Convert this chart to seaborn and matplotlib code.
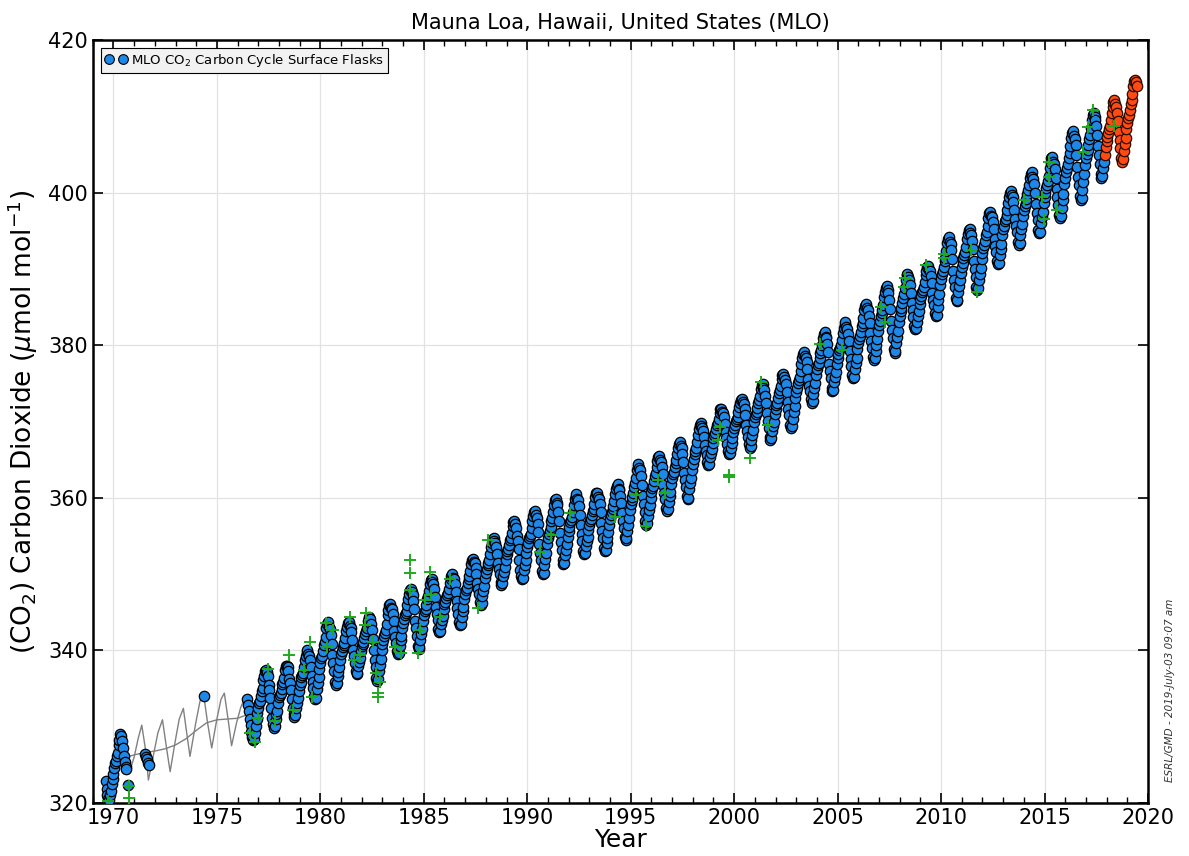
import pandas as pd
import seaborn as sns
import matplotlib.pyplot as plt
from matplotlib.lines import Line2D
from matplotlib.ticker import MultipleLocator

sns.set_theme(style="ticks")
plt.rcParams['font.family'] = ['DejaVu Sans']
plt.rcParams['text.color'] = 'black'
plt.rcParams['axes.labelcolor'] = 'black'

# flask CO2 (umol/mol), two values per month Jan..Dec, None = no sample
co2_1969 = [None] * 14 + [322.9, 321.8, 321.0, 320.5, 320.4, 321.1, 321.6, 322.5, 323.2, 323.8]
co2_1970 = [324.6, 325.2, 325.5, 326.2, 326.6, 327.6, 328.2, 329.0, 328.8, 328.1, 327.2, 326.1, 325.4, 324.7, 324.4, None, 322.3] + [None] * 7
co2_1971 = [None] * 12 + [326.4, 326.0, 325.7, 325.2, 325.0] + [None] * 7
co2_1974 = [None] * 8 + [334.0] + [None] * 15
co2_1976 = [None] * 10 + [333.6, 332.9, 332.0, 331.0, 330.2, 329.3, 328.6, 328.2, 328.4, 329.2, 330.1, 331.0, 331.8, 332.5]
co2_1977 = [333.1, 333.4, 334.0, 334.7, 335.1, 336.1, 336.7, 337.3, 337.4, 337.2, 336.6, 335.5, 334.8, 333.8, 332.4, 331.1, 330.3, 329.8, 330.1, 331.0, 331.6, 332.1, 333.1, 333.9]
co2_1978 = [334.2, 334.4, 335.0, 335.6, 335.9, 336.4, 337.4, 337.9, 338.0, 337.8, 337.3, 336.3, 335.7, 334.8, 333.6, 332.5, 331.7, 331.3, 331.5, 332.5, 333.1, 333.7, 334.7, 335.5]
co2_1979 = [335.9, 336.5, 336.8, 337.1, 337.8, 338.7, 339.3, 339.8, 340.0, 339.5, 339.3, 338.7, 337.8, 336.6, 335.8, 335.1, 334.0, 333.6, 333.8, 334.9, 335.7, 336.5, 337.6, 338.4]
co2_1980 = [339.0, 339.3, 339.9, 340.7, 341.1, 341.8, 342.9, 343.5, 343.7, 343.1, 342.8, 342.0, 340.9, 339.4, 338.3, 337.3, 335.9, 335.5, 335.7, 336.6, 337.2, 337.8, 338.7, 339.5]
co2_1981 = [339.9, 340.5, 340.7, 341.0, 341.6, 342.5, 343.1, 343.6, 343.7, 343.2, 343.0, 342.4, 341.4, 340.1, 339.2, 338.4, 337.3, 336.9, 337.1, 338.0, 338.5, 339.0, 339.9, 340.6]
co2_1982 = [340.9, 341.1, 341.6, 342.2, 342.5, 343.0, 343.8, 344.3, 344.4, 344.1, 343.5, 342.7, 341.5, 340.0, 338.8, 337.8, 336.4, 336.0, 336.2, 337.3, 338.1, 338.9, 340.0, 340.8]
co2_1983 = [341.3, 341.9, 342.3, 342.7, 343.5, 344.6, 345.3, 345.9, 346.1, 345.6, 345.4, 344.8, 343.9, 342.6, 341.7, 341.0, 339.9, 339.5, 339.7, 340.6, 341.3, 341.9, 342.9, 343.6]
co2_1984 = [344.1, 344.6, 344.9, 345.2, 345.9, 346.8, 347.4, 347.9, 348.1, 347.6, 347.3, 346.5, 345.4, 343.9, 342.9, 341.9, 340.6, 340.2, 340.4, 341.4, 342.1, 342.8, 343.8, 344.6]
co2_1985 = [345.1, 345.4, 346.0, 346.7, 347.1, 347.8, 348.7, 349.2, 349.4, 349.0, 348.7, 348.0, 347.0, 345.7, 344.8, 344.0, 342.8, 342.4, 342.6, 343.5, 344.0, 344.5, 345.4, 346.1]
co2_1986 = [346.4, 346.9, 347.2, 347.5, 348.1, 348.9, 349.4, 349.8, 350.0, 349.5, 349.3, 348.7, 347.7, 346.5, 345.6, 344.8, 343.7, 343.3, 343.5, 344.4, 345.1, 345.7, 346.7, 347.4]
co2_1987 = [347.9, 348.2, 348.8, 349.4, 349.8, 350.4, 351.3, 351.8, 352.0, 351.6, 351.4, 350.8, 350.0, 348.9, 348.1, 347.4, 346.4, 346.0, 346.2, 347.1, 347.8, 348.5, 349.5, 350.2]
co2_1988 = [350.7, 351.2, 351.5, 351.9, 352.6, 353.5, 354.1, 354.6, 354.8, 354.3, 354.1, 353.5, 352.7, 351.5, 350.7, 350.0, 349.0, 348.6, 348.8, 349.7, 350.3, 350.9, 351.9, 352.6]
co2_1989 = [353.0, 353.3, 353.8, 354.5, 354.8, 355.4, 356.3, 356.8, 356.9, 356.6, 356.1, 355.0, 354.3, 353.3, 351.9, 350.6, 349.7, 349.3, 349.5, 350.5, 351.2, 351.8, 352.8, 353.6]
co2_1990 = [354.1, 354.7, 355.0, 355.3, 356.0, 357.0, 357.6, 358.1, 358.3, 357.7, 357.4, 356.6, 355.5, 353.9, 352.8, 351.8, 350.4, 350.0, 350.2, 351.2, 352.0, 352.8, 353.9, 354.7]
co2_1991 = [355.2, 355.6, 356.2, 356.9, 357.4, 358.1, 359.1, 359.7, 359.9, 359.3, 359.0, 358.2, 357.0, 355.4, 354.2, 353.2, 351.8, 351.3, 351.5, 352.5, 353.2, 353.9, 354.9, 355.7]
co2_1992 = [356.2, 356.8, 357.1, 357.5, 358.2, 359.1, 359.8, 360.3, 360.5, 359.9, 359.7, 358.9, 357.8, 356.4, 355.3, 354.3, 353.0, 352.6, 352.8, 353.7, 354.3, 354.9, 355.8, 356.5]
co2_1993 = [356.9, 357.2, 357.7, 358.3, 358.6, 359.2, 360.1, 360.6, 360.7, 360.1, 359.9, 359.2, 358.1, 356.7, 355.6, 354.7, 353.4, 353.0, 353.2, 354.1, 354.8, 355.5, 356.5, 357.2]
co2_1994 = [357.7, 358.2, 358.5, 358.9, 359.6, 360.5, 361.1, 361.6, 361.8, 361.2, 361.0, 360.3, 359.3, 358.0, 357.0, 356.1, 354.9, 354.5, 354.7, 355.7, 356.5, 357.3, 358.4, 359.2]
co2_1995 = [359.7, 360.1, 360.7, 361.4, 361.9, 362.6, 363.6, 364.2, 364.4, 363.9, 363.6, 362.8, 361.7, 360.3, 359.2, 358.2, 356.9, 356.5, 356.7, 357.6, 358.4, 359.0, 360.0, 360.8]
co2_1996 = [361.3, 361.6, 362.2, 362.8, 363.2, 364.1, 364.8, 365.3, 365.5, 364.9, 364.7, 364.1, 363.1, 361.7, 360.7, 359.9, 358.7, 358.3, 358.5, 359.5, 360.2, 360.8, 361.8, 362.6]
co2_1997 = [363.1, 363.4, 364.0, 364.6, 365.0, 365.7, 366.6, 367.1, 367.3, 366.8, 366.5, 365.8, 364.7, 363.3, 362.3, 361.4, 360.2, 359.8, 360.0, 361.1, 361.9, 362.6, 363.7, 364.5]
co2_1998 = [365.1, 365.7, 366.1, 366.6, 367.3, 368.3, 369.0, 369.6, 369.8, 369.4, 369.2, 368.7, 368.0, 366.9, 366.2, 365.6, 364.7, 364.3, 364.5, 365.3, 365.9, 366.4, 367.2, 367.8]
co2_1999 = [368.2, 368.5, 369.0, 369.5, 369.8, 370.3, 371.1, 371.6, 371.7, 371.3, 371.1, 370.6, 369.7, 368.6, 367.8, 367.1, 366.1, 365.7, 365.9, 366.6, 367.2, 367.8, 368.6, 369.2]
co2_2000 = [369.6, 370.1, 370.3, 370.6, 371.2, 371.9, 372.4, 372.8, 373.0, 372.6, 372.3, 371.7, 370.8, 369.6, 368.8, 368.0, 367.0, 366.6, 366.8, 367.6, 368.3, 368.9, 369.9, 370.6]
co2_2001 = [371.0, 371.3, 371.8, 372.4, 372.8, 373.4, 374.3, 374.8, 374.9, 374.4, 374.1, 373.4, 372.4, 371.1, 370.1, 369.2, 368.0, 367.6, 367.8, 368.7, 369.4, 370.0, 371.0, 371.7]
co2_2002 = [372.2, 372.5, 373.1, 373.7, 374.1, 374.7, 375.6, 376.1, 376.3, 375.8, 375.5, 374.9, 373.9, 372.6, 371.6, 370.8, 369.6, 369.2, 369.4, 370.4, 371.2, 372.0, 373.1, 373.9]
co2_2003 = [374.4, 375.0, 375.4, 375.8, 376.6, 377.6, 378.3, 378.9, 379.1, 378.6, 378.4, 377.8, 376.9, 375.6, 374.7, 374.0, 372.9, 372.5, 372.7, 373.6, 374.4, 375.1, 376.1, 376.9]
co2_2004 = [377.4, 377.7, 378.3, 379.0, 379.4, 380.1, 381.0, 381.5, 381.7, 381.1, 380.9, 380.2, 379.1, 377.6, 376.6, 375.7, 374.4, 374.0, 374.2, 375.2, 375.9, 376.5, 377.5, 378.3]
co2_2005 = [378.8, 379.4, 379.7, 380.1, 380.7, 381.6, 382.3, 382.8, 383.0, 382.4, 382.2, 381.5, 380.5, 379.2, 378.2, 377.3, 376.1, 375.7, 375.9, 376.9, 377.7, 378.4, 379.5, 380.3]
co2_2006 = [380.8, 381.2, 381.8, 382.5, 382.9, 383.6, 384.6, 385.2, 385.4, 384.9, 384.6, 383.9, 382.9, 381.6, 380.6, 379.7, 378.5, 378.1, 378.3, 379.3, 380.1, 380.8, 381.9, 382.7]
co2_2007 = [383.2, 383.8, 384.2, 384.6, 385.3, 386.3, 387.0, 387.5, 387.8, 387.2, 386.9, 386.0, 384.8, 383.2, 382.0, 380.9, 379.5, 379.0, 379.2, 380.3, 381.1, 381.9, 383.1, 383.9]
co2_2008 = [384.5, 384.9, 385.5, 386.2, 386.7, 387.5, 388.6, 389.2, 389.4, 388.9, 388.6, 387.9, 386.9, 385.6, 384.6, 383.7, 382.5, 382.1, 382.3, 383.1, 383.8, 384.5, 385.4, 386.1]
co2_2009 = [386.5, 387.0, 387.3, 387.7, 388.3, 389.2, 389.8, 390.3, 390.4, 389.9, 389.7, 389.1, 388.2, 386.9, 386.0, 385.3, 384.2, 383.8, 384.0, 385.0, 385.9, 386.7, 387.9, 388.7]
co2_2010 = [389.3, 389.7, 390.3, 391.0, 391.5, 392.3, 393.4, 394.0, 394.2, 393.6, 393.3, 392.5, 391.3, 389.8, 388.6, 387.6, 386.2, 385.8, 386.0, 387.0, 387.8, 388.5, 389.5, 390.3]
co2_2011 = [390.8, 391.4, 391.8, 392.2, 392.9, 393.9, 394.6, 395.1, 395.3, 394.7, 394.4, 393.7, 392.6, 391.1, 390.0, 389.0, 387.7, 387.3, 387.5, 388.5, 389.4, 390.2, 391.3, 392.1]
co2_2012 = [392.7, 393.1, 393.7, 394.4, 394.9, 395.7, 396.7, 397.3, 397.5, 397.0, 396.8, 396.2, 395.2, 393.9, 393.0, 392.2, 391.0, 390.6, 390.8, 391.8, 392.6, 393.3, 394.4, 395.2]
co2_2013 = [395.7, 396.3, 396.6, 397.1, 397.8, 398.7, 399.4, 400.0, 400.2, 399.7, 399.5, 398.8, 397.8, 396.5, 395.6, 394.8, 393.6, 393.2, 393.4, 394.4, 395.2, 395.9, 396.9, 397.7]
co2_2014 = [398.2, 398.6, 399.2, 399.9, 400.3, 401.0, 402.0, 402.5, 402.7, 402.1, 401.8, 401.1, 400.0, 398.5, 397.4, 396.4, 395.1, 394.7, 394.9, 396.0, 396.8, 397.5, 398.6, 399.4]
co2_2015 = [400.0, 400.6, 401.0, 401.5, 402.2, 403.2, 403.9, 404.5, 404.7, 404.1, 403.8, 403.1, 402.0, 400.5, 399.4, 398.4, 397.1, 396.7, 396.9, 398.0, 399.0, 399.9, 401.2, 402.0]
co2_2016 = [402.7, 403.2, 403.8, 404.6, 405.2, 406.1, 407.2, 407.8, 408.1, 407.5, 407.1, 406.2, 405.0, 403.4, 402.1, 401.0, 399.6, 399.1, 399.3, 400.4, 401.4, 402.4, 403.6, 404.5]
co2_2017 = [405.1, 405.6, 406.2, 407.0, 407.6, 408.5, 409.6, 410.2, 410.5, 409.9, 409.6, 408.7, 407.6, 406.1, 404.9, 403.8, 402.4, 401.9, 402.2, 403.2, 404.1] + [None] * 3

flask_years = [1969, 1970, 1971, 1974] + list(range(1976, 2018))
flask_rows = [co2_1969, co2_1970, co2_1971, co2_1974, co2_1976, co2_1977, co2_1978,
              co2_1979, co2_1980, co2_1981, co2_1982, co2_1983, co2_1984, co2_1985,
              co2_1986, co2_1987, co2_1988, co2_1989, co2_1990, co2_1991, co2_1992,
              co2_1993, co2_1994, co2_1995, co2_1996, co2_1997, co2_1998, co2_1999,
              co2_2000, co2_2001, co2_2002, co2_2003, co2_2004, co2_2005, co2_2006,
              co2_2007, co2_2008, co2_2009, co2_2010, co2_2011, co2_2012, co2_2013,
              co2_2014, co2_2015, co2_2016, co2_2017]

# preliminary samples (red)
pre_2017 = [None] * 21 + [405.0, 406.0, 406.8]
pre_2018 = [407.3, 407.9, 408.3, 408.8, 409.5, 410.5, 411.3, 411.9, 412.1, 411.6, 411.3, 410.5, 409.4, 408.0, 406.9, 405.9, 404.6, 404.1, 404.4, 405.5, 406.4, 407.2, 408.4, 409.2]
pre_2019 = [409.8, 410.2, 410.8, 411.6, 412.1, 412.9, 414.0, 414.6, 414.8, 414.5, 414.0] + [None] * 13
prelim_years = [2017, 2018, 2019]
prelim_rows = [pre_2017, pre_2018, pre_2019]

# flagged samples (green +)
flag_years = [1969.72, 1970.74, 1970.74, 1976.58, 1976.82, 1976.98, 1977.46, 1977.83, 1978.48, 1978.67,
              1979.19, 1979.48, 1979.61, 1980.28, 1980.31, 1980.60, 1981.41, 1981.65, 1981.90, 1982.14,
              1982.22, 1982.54, 1982.70, 1982.86, 1982.78, 1982.78, 1983.59, 1983.91, 1984.35, 1984.35,
              1984.31, 1984.72, 1984.80, 1985.04, 1985.28, 1985.36, 1985.76, 1986.25, 1987.62, 1988.10,
              1990.60, 1991.17, 1992.05, 1994.23, 1995.28, 1995.73, 1996.32, 1996.64, 1999.22, 1999.30,
              1999.74, 1999.74, 2000.75, 2001.32, 2001.64, 2004.14, 2005.19, 2007.12, 2007.28, 2008.20,
              2008.25, 2009.27, 2010.14, 2010.14, 2011.47, 2011.75, 2014.00, 2014.90, 2014.97, 2015.23,
              2015.23, 2015.58, 2016.87, 2017.11, 2017.32, 2018.36]
flag_values = [320.2, 322.2, 320.6, 329.2, 328.0, 331.1, 337.6, 330.7, 339.4, 332.2,
               337.4, 341.1, 333.9, 343.6, 340.5, 342.7, 344.4, 338.7, 339.4, 343.3,
               344.9, 341.1, 337.0, 335.8, 334.4, 333.9, 340.5, 339.6, 351.8, 350.1,
               347.9, 339.6, 342.7, 346.6, 350.3, 347.3, 344.4, 349.4, 345.5, 354.5,
               352.9, 355.1, 358.0, 357.5, 360.4, 356.3, 362.3, 360.7, 367.6, 369.3,
               363.0, 362.7, 365.2, 375.2, 369.5, 380.2, 379.4, 385.0, 383.1, 387.7,
               388.8, 390.5, 392.0, 391.4, 392.5, 387.0, 399.0, 399.5, 396.6, 404.0,
               402.1, 397.7, 405.4, 408.6, 410.9, 408.7]

# curve fit through the 1971-1976 gap
fit_years = [1970.50, 1970.75, 1971.00, 1971.20, 1971.37, 1971.55, 1971.69, 1971.95, 1972.15, 1972.37,
             1972.55, 1972.74, 1972.98, 1973.18, 1973.38, 1973.55, 1973.70, 1973.98, 1974.18, 1974.35,
             1974.55, 1974.75, 1975.00, 1975.20, 1975.36, 1975.55, 1975.71, 1975.95, 1976.15, 1976.35,
             1976.50]
fit_values = [327.5, 323.8, 326.0, 328.5, 330.2, 327.0, 323.0, 326.5, 329.2, 330.9,
              327.5, 324.1, 328.0, 331.0, 332.4, 329.0, 326.1, 330.5, 333.3, 334.4,
              330.5, 327.2, 331.0, 333.6, 334.4, 330.8, 327.5, 330.5, 332.5, 333.8,
              333.6]
trend_years = [1969.8, 1970.0, 1970.5, 1971.0, 1971.5, 1972.0, 1972.5, 1973.0, 1973.5, 1974.0,
               1974.5, 1975.0, 1975.5, 1976.0, 1976.5, 1977.0]
trend_values = [324.6, 325.2, 325.9, 326.3, 326.6, 326.8, 327.1, 327.6, 328.4, 329.5,
                330.5, 330.9, 331.0, 331.1, 331.6, 332.6]


def to_frame(years, rows):
    recs = []
    for yr, row in zip(years, rows):
        for k, v in enumerate(row):
            if v is not None:
                recs.append((yr + (k + 1) / 24, v))
    return pd.DataFrame(recs, columns=["year", "co2"])


flask = to_frame(flask_years, flask_rows)
prelim = to_frame(prelim_years, prelim_rows)
flags = pd.DataFrame({"year": flag_years, "co2": flag_values})
fit = pd.DataFrame({"year": fit_years, "co2": fit_values})
trend = pd.DataFrame({"year": trend_years, "co2": trend_values})
recent = pd.concat([flask[flask.year > 1976], prelim])

blue = "#1e88e8"
red = "#ff4a14"
green = "#1faa1f"

fig, ax = plt.subplots(figsize=(11.89, 8.56), dpi=100)
fig.subplots_adjust(left=0.078, right=0.9655, bottom=0.062, top=0.953)

# gray fit curves
sns.lineplot(data=fit, x="year", y="co2", color="#808080", lw=1, ax=ax,
             estimator=None, sort=False, zorder=2)
sns.lineplot(data=trend, x="year", y="co2", color="#808080", lw=1, ax=ax,
             estimator=None, sort=False, zorder=2)
sns.lineplot(data=recent, x="year", y="co2", color="#808080", lw=1, ax=ax,
             estimator=None, sort=True, zorder=2)

sns.scatterplot(data=flask, x="year", y="co2", color=blue, edgecolor="black",
                linewidth=0.9, s=56, ax=ax, zorder=3)
sns.scatterplot(data=prelim, x="year", y="co2", color=red, edgecolor="#2a0c00",
                linewidth=0.9, s=56, ax=ax, zorder=4)
sns.scatterplot(data=flags, x="year", y="co2", color=green, marker="+",
                s=70, linewidth=1.4, ax=ax, zorder=5)

ax.set_xlim(1969, 2020)
ax.set_ylim(320, 420)
ax.xaxis.set_major_locator(MultipleLocator(5))
ax.xaxis.set_minor_locator(MultipleLocator(1))
ax.yaxis.set_major_locator(MultipleLocator(20))
ax.tick_params(which="both", direction="in", top=True, right=True, labelsize=15, colors="black")
ax.tick_params(which="major", length=7, width=1.2)
ax.tick_params(which="minor", length=4, width=1)
ax.grid(True, which="major", color="#e2e2e2", lw=0.9)
ax.set_axisbelow(True)
for sp in ax.spines.values():
    sp.set_visible(True)
    sp.set_linewidth(1.8)
    sp.set_color("black")

ax.set_title("Mauna Loa, Hawaii, United States (MLO)", fontsize=15, pad=8, color="black")
ax.set_xlabel("Year", fontsize=18, labelpad=0)
ax.set_ylabel(r"(CO$_2$) Carbon Dioxide ($\mu$mol mol$^{-1}$)", fontsize=19, labelpad=6)

handle = Line2D([], [], ls="none", marker="o", markersize=7, markerfacecolor=blue,
                markeredgecolor="black", markeredgewidth=0.8)
leg = ax.legend(handles=[handle], labels=["MLO CO$_2$ Carbon Cycle Surface Flasks"],
                loc="upper left", numpoints=2, fontsize=9.5, fancybox=False,
                edgecolor="black", facecolor="#f2f2f2", framealpha=1,
                borderpad=0.3, handletextpad=0.3, handlelength=1.7,
                borderaxespad=0.6)
leg.get_frame().set_linewidth(0.8)

fig.text(0.984, 0.194, "ESRL/GMD - 2019-July-03 09:07 am", rotation=90, fontsize=7.5,
         style="italic", color="#333333", ha="center", va="center")

fig.savefig("out.png", dpi=100)
